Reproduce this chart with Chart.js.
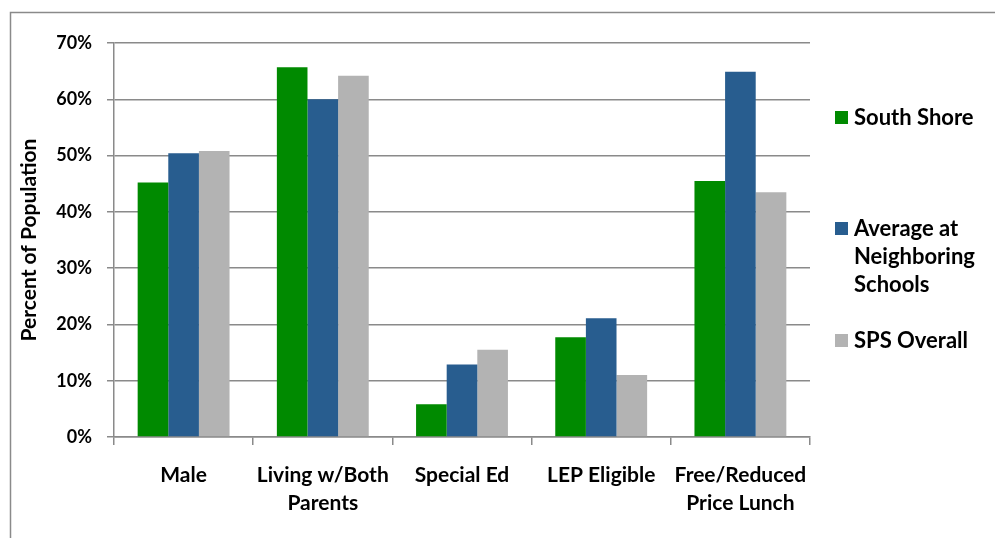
<!DOCTYPE html>
<html>
<head>
<meta charset="utf-8">
<script src="https://cdn.jsdelivr.net/npm/chart.js@4"></script>
<style>
  html, body { margin: 0; padding: 0; background: #fff; }
  #wrap { width: 995px; height: 538px; position: relative; }
</style>
</head>
<body>
<div id="wrap"><canvas id="demoChart"></canvas></div>
<script>
// Chart data
const categories = ['Male', ['Living w/Both', 'Parents'], 'Special Ed', 'LEP Eligible', ['Free/Reduced', 'Price Lunch']];
const southShore = [45.2, 65.7, 5.8, 17.7, 45.5];
const neighboring = [50.4, 60.0, 12.9, 21.1, 64.9];
const spsOverall = [50.8, 64.2, 15.5, 11.0, 43.5];
const seriesNames = ['South Shore', ['Average at', 'Neighboring', 'Schools'], 'SPS Overall'];
const yTicks = [0, 10, 20, 30, 40, 50, 60, 70];

const FONT = 'Lato, "Open Sans", sans-serif';
const colors = ['#008a00', '#285d8f', '#b3b3b3'];

// frame + legend drawn by hand (Excel style legend with wrapped text)
const excelLegend = {
    id: 'excelLegend',
    beforeDraw(chart) {
        const ctx = chart.ctx;
        ctx.save();
        ctx.strokeStyle = '#8a8a8a';
        ctx.lineWidth = 1.5;
        ctx.beginPath();
        ctx.moveTo(10.5, 538);
        ctx.lineTo(10.5, 12.5);
        ctx.lineTo(995, 12.5);
        ctx.stroke();
        ctx.restore();
    },
    afterDraw(chart) {
        const ctx = chart.ctx;
        const rows = [118, 229, 341]; // first line centres
        ctx.save();
        ctx.font = 'bold 22px ' + FONT;
        ctx.textBaseline = 'middle';
        seriesNames.forEach((name, i) => {
            const lines = Array.isArray(name) ? name : [name];
            ctx.fillStyle = colors[i];
            ctx.fillRect(835, rows[i] - 7, 13, 13);
            ctx.fillStyle = '#000';
            lines.forEach((ln, j) => ctx.fillText(ln, 854, rows[i] + j * 28));
        });
        ctx.restore();
    }
};

const ctx = document.getElementById('demoChart').getContext('2d');
new Chart(ctx, {
    type: 'bar',
    data: {
        labels: categories,
        datasets: [
            { label: 'South Shore', data: southShore, backgroundColor: colors[0] },
            { label: 'Average at Neighboring Schools', data: neighboring, backgroundColor: colors[1] },
            { label: 'SPS Overall', data: spsOverall, backgroundColor: colors[2] }
        ]
    },
    options: {
        responsive: true,
        maintainAspectRatio: false,
        animation: false,
        layout: { padding: { top: 43, right: 185, left: 0, bottom: 0 } },
        datasets: { bar: { categoryPercentage: 0.66, barPercentage: 1.0 } },
        plugins: {
            legend: { display: false },
            tooltip: { enabled: false }
        },
        scales: {
            x: {
                grid: { drawOnChartArea: false, drawTicks: true, tickLength: 8, color: '#8a8a8a', lineWidth: 1.5, offset: true },
                border: { color: '#8a8a8a', width: 1.5 },
                ticks: { color: '#000', font: { family: FONT, size: 21, weight: 'bold', lineHeight: 1.3 }, padding: 17, maxRotation: 0, autoSkip: false },
                afterFit(scale) { scale.height = 101; }
            },
            y: {
                min: 0,
                max: 70,
                afterBuildTicks(scale) { scale.ticks = yTicks.map(v => ({ value: v })); },
                grid: { color: '#8a8a8a', lineWidth: 1.5, tickLength: 7 },
                border: { color: '#8a8a8a', width: 1.5 },
                ticks: { color: '#000', font: { family: FONT, size: 18, weight: 'bold' }, padding: 15, callback: v => v + '%' },
                title: { display: true, text: 'Percent of Population', color: '#000', font: { family: FONT, size: 21, weight: 'bold' }, padding: { top: 17, bottom: 0 } },
                afterFit(scale) { scale.width = 114; }
            }
        }
    },
    plugins: [excelLegend]
});
</script>
</body>
</html>
